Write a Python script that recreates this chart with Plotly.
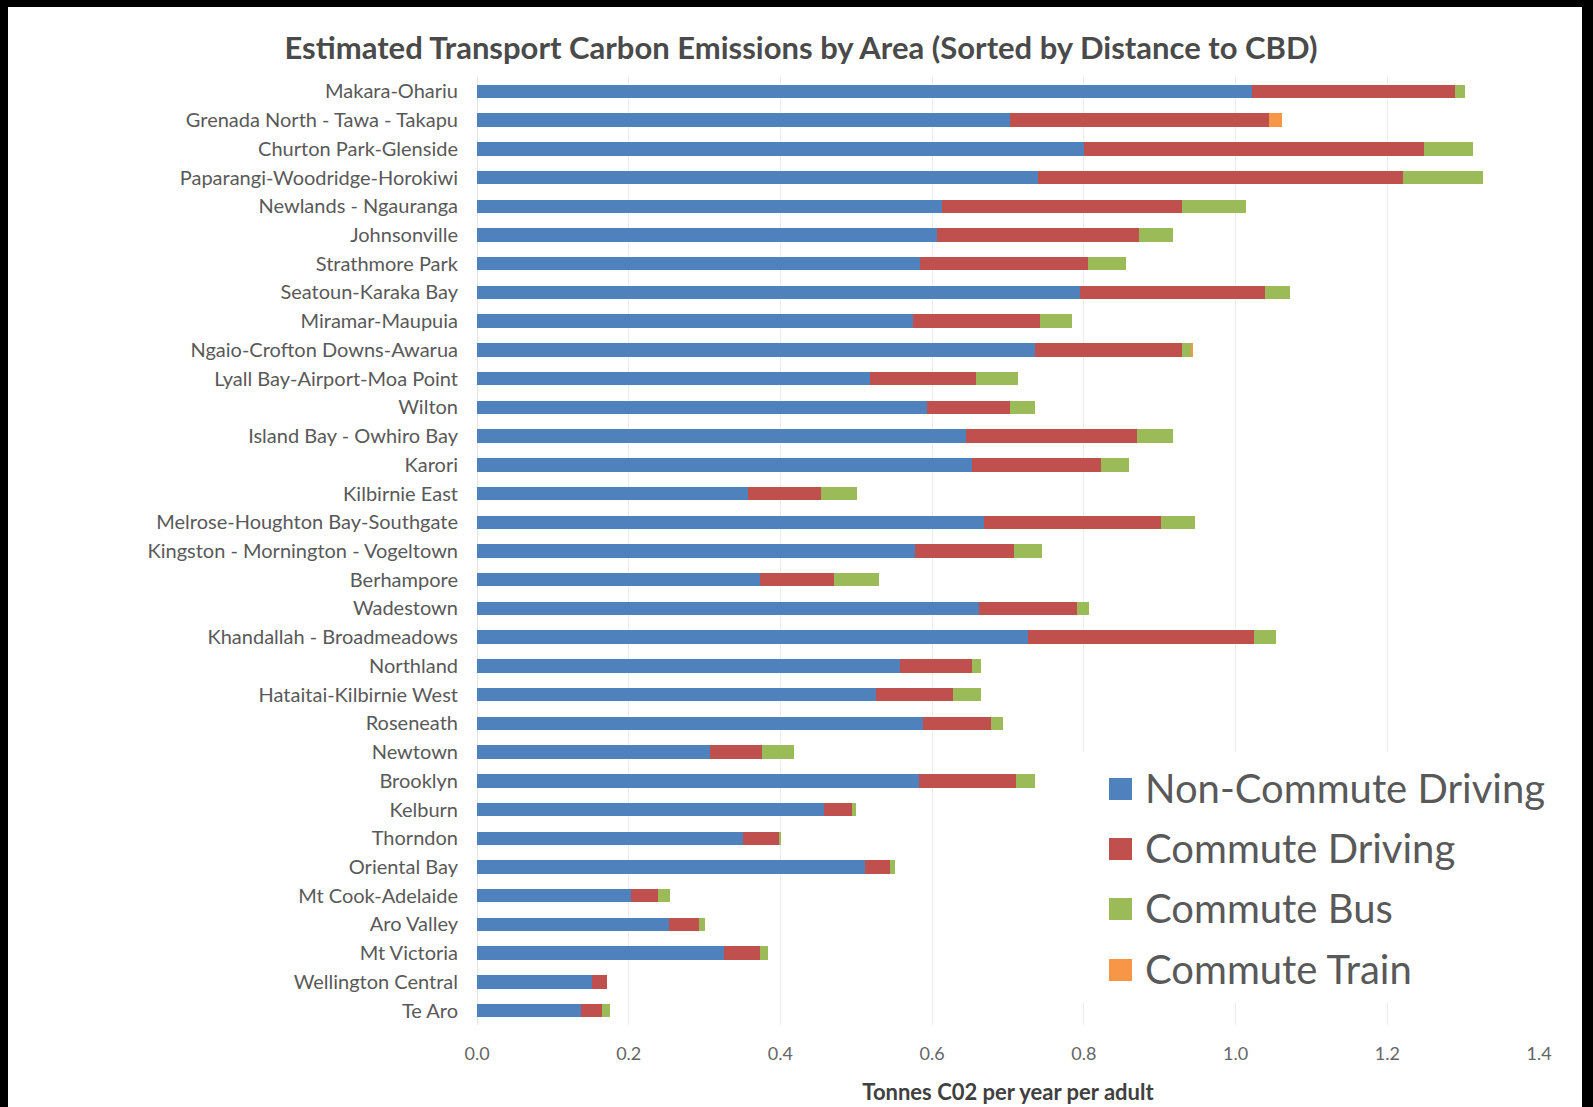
import plotly.graph_objects as go

# ---------------- data ----------------
categories = [
    "Makara-Ohariu", "Grenada North - Tawa - Takapu", "Churton Park-Glenside",
    "Paparangi-Woodridge-Horokiwi", "Newlands - Ngauranga", "Johnsonville",
    "Strathmore Park", "Seatoun-Karaka Bay", "Miramar-Maupuia",
    "Ngaio-Crofton Downs-Awarua", "Lyall Bay-Airport-Moa Point", "Wilton",
    "Island Bay - Owhiro Bay", "Karori", "Kilbirnie East",
    "Melrose-Houghton Bay-Southgate", "Kingston - Mornington - Vogeltown",
    "Berhampore", "Wadestown", "Khandallah - Broadmeadows", "Northland",
    "Hataitai-Kilbirnie West", "Roseneath", "Newtown", "Brooklyn", "Kelburn",
    "Thorndon", "Oriental Bay", "Mt Cook-Adelaide", "Aro Valley", "Mt Victoria",
    "Wellington Central", "Te Aro",
]
non_commute_driving = [
    1.022, 0.702, 0.800, 0.740, 0.613, 0.607, 0.584, 0.795, 0.575, 0.735,
    0.518, 0.593, 0.644, 0.653, 0.357, 0.669, 0.577, 0.373, 0.662, 0.727,
    0.558, 0.526, 0.588, 0.307, 0.583, 0.457, 0.350, 0.511, 0.203, 0.253,
    0.326, 0.151, 0.137,
]
commute_driving = [
    0.267, 0.342, 0.449, 0.481, 0.317, 0.266, 0.221, 0.244, 0.167, 0.194,
    0.140, 0.109, 0.226, 0.170, 0.097, 0.233, 0.131, 0.098, 0.129, 0.297,
    0.094, 0.102, 0.089, 0.069, 0.127, 0.038, 0.048, 0.034, 0.035, 0.039,
    0.047, 0.021, 0.028,
]
commute_bus = [
    0.013, 0.000, 0.064, 0.105, 0.084, 0.045, 0.050, 0.033, 0.043, 0.012,
    0.055, 0.033, 0.048, 0.037, 0.047, 0.044, 0.037, 0.059, 0.016, 0.029,
    0.012, 0.036, 0.017, 0.042, 0.026, 0.005, 0.003, 0.006, 0.016, 0.008,
    0.011, 0.000, 0.010,
]
commute_train = [
    0.000, 0.017, 0.000, 0.000, 0.000, 0.000, 0.000, 0.000, 0.000, 0.003,
    0.000, 0.000, 0.000, 0.000, 0.000, 0.000, 0.000, 0.000, 0.000, 0.000,
    0.000, 0.000, 0.000, 0.000, 0.000, 0.000, 0.000, 0.000, 0.000, 0.000,
    0.000, 0.000, 0.000,
]
series_names = ["Non-Commute Driving", "Commute Driving", "Commute Bus", "Commute Train"]
series_colors = ["#4F81BD", "#C0504D", "#9BBB59", "#F79646"]
x_tick_values = [0.0, 0.2, 0.4, 0.6, 0.8, 1.0, 1.2, 1.4]
x_tick_labels = ["0.0", "0.2", "0.4", "0.6", "0.8", "1.0", "1.2", "1.4"]

title_text = "Estimated Transport Carbon Emissions by Area (Sorted by Distance to CBD)"
x_title_text = "Tonnes C02 per year per adult"

# ---------------- layout geometry ----------------
W, H = 1593, 1107
L, R, T, B = 477, 54, 77, 82
PW, PH = W - L - R, H - T - B


def px(x):
    return (x - L) / PW


def py(y):
    return (H - B - y) / PH


FONT = "Lato, 'Open Sans', sans-serif"
GRAY = "#595959"

fig = go.Figure()
all_series = [non_commute_driving, commute_driving, commute_bus, commute_train]
for name, vals, col in zip(series_names, all_series, series_colors):
    fig.add_trace(go.Bar(
        y=categories, x=vals, name=name, orientation="h",
        marker=dict(color=col, line=dict(width=0)),
        showlegend=False,
    ))

shapes = []
# white page panel on black frame (frame on top, left and right only)
shapes.append(dict(type="rect", xref="paper", yref="paper",
                   x0=px(8), x1=px(1582), y0=py(1110), y1=py(7),
                   fillcolor="white", line=dict(width=0), layer="below"))
# legend box (covers gridlines)
shapes.append(dict(type="rect", xref="paper", yref="paper",
                   x0=px(1078), x1=px(1556), y0=py(1002), y1=py(752),
                   fillcolor="white", line=dict(width=0), layer="above"))

annotations = []
legend_rows = [789, 849, 909, 970]
for name, col, yc in zip(series_names, series_colors, legend_rows):
    shapes.append(dict(type="rect", xref="paper", yref="paper",
                       x0=px(1109), x1=px(1132), y0=py(yc + 11), y1=py(yc - 11),
                       fillcolor=col, line=dict(width=0), layer="above"))
    annotations.append(dict(text=name, xref="paper", yref="paper",
                            x=px(1143), y=py(yc - 1), xanchor="left", yanchor="middle",
                            showarrow=False,
                            font=dict(family=FONT, size=40, color=GRAY)))

fig.update_layout(
    width=W, height=H,
    margin=dict(l=L, r=R, t=T, b=B, autoexpand=False),
    paper_bgcolor="black",
    plot_bgcolor="white",
    barmode="stack",
    bargap=0.53,
    showlegend=False,
    title=dict(text=title_text, x=801 / W, y=1 - 48 / H, xref="container", yref="container",
               xanchor="center", yanchor="middle",
               font=dict(family=FONT, size=31, color="#4a4a4a", weight="bold")),
    xaxis=dict(
        range=[0, 1.4], tickvals=x_tick_values, ticktext=x_tick_labels,
        showgrid=True, gridcolor="#ececec", gridwidth=1,
        zeroline=True, zerolinecolor="#e4e4e4", zerolinewidth=1,
        showline=False, ticks="",
        ticklabelstandoff=16,
        tickfont=dict(family=FONT, size=18, color="#666666"),
        title=dict(text=x_title_text, standoff=21,
                   font=dict(family=FONT, size=22, color="#404040", weight="bold")),
    ),
    yaxis=dict(
        categoryorder="array", categoryarray=categories,
        range=[len(categories) - 0.5, -0.5],
        showgrid=False, zeroline=False, showline=False, ticks="",
        ticklabelstandoff=18,
        tickfont=dict(family=FONT, size=20, color=GRAY),
    ),
    shapes=shapes,
    annotations=annotations,
)

fig.write_html("out.html")
